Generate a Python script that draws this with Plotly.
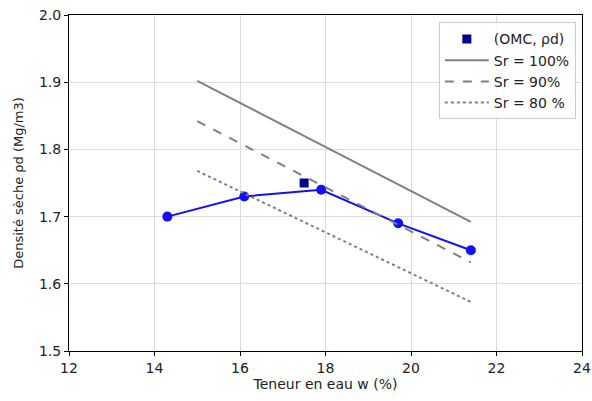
import plotly.graph_objects as go

# Data
w_exp = [14.3, 16.1, 17.9, 19.7, 21.4]
rho_exp = [1.70, 1.73, 1.74, 1.69, 1.65]
omc = [17.5]
rho_max = [1.75]
w_sr = [15.0, 21.4]
sr100 = [1.902, 1.692]
sr90 = [1.842, 1.632]
sr80 = [1.768, 1.573]
x_ticks = [12, 14, 16, 18, 20, 22, 24]
y_ticks = [1.5, 1.6, 1.7, 1.8, 1.9, 2.0]

fig = go.Figure()
fig.add_trace(go.Scatter(x=w_exp, y=rho_exp, mode="lines+markers",
                         line=dict(color="#1010ff", width=2),
                         marker=dict(color="#1010ff", size=10), showlegend=False))
fig.add_trace(go.Scatter(x=omc, y=rho_max, mode="markers", name="(OMC, ρd)",
                         marker=dict(symbol="square", color="#00008b", size=9)))
fig.add_trace(go.Scatter(x=w_sr, y=sr100, mode="lines", name="Sr = 100%",
                         line=dict(color="#808080", width=2)))
fig.add_trace(go.Scatter(x=w_sr, y=sr90, mode="lines", name="Sr = 90%",
                         line=dict(color="#808080", width=2, dash="dash")))
fig.add_trace(go.Scatter(x=w_sr, y=sr80, mode="lines", name="Sr = 80 %",
                         line=dict(color="#808080", width=2, dash="dot")))

axis_common = dict(showline=True, linecolor="black", linewidth=1, mirror=True,
                   ticks="outside", ticklen=4, tickcolor="black", automargin=False,
                   showgrid=True, gridcolor="#dcdcdc", gridwidth=1, zeroline=False,
                   ticklabeloverflow="allow",
                   tickfont=dict(size=14, color="#222"))
fig.update_xaxes(range=[12, 24], tickvals=x_ticks, ticktext=[str(v) for v in x_ticks],
                 title=dict(text="Teneur en eau w (%)", font=dict(size=14, color="#222"), standoff=4),
                 **axis_common)
fig.update_yaxes(range=[1.5, 2.0], tickvals=y_ticks, ticktext=[f"{v:.1f}" for v in y_ticks],
                 title=dict(text="Densité sèche ρd (Mg/m3)", font=dict(size=13, color="#222"), standoff=12),
                 **axis_common)

fig.update_layout(
    width=592, height=401,
    margin=dict(l=69, r=10, t=15, b=50),
    paper_bgcolor="white", plot_bgcolor="white",
    font=dict(family="DejaVu Sans", size=14, color="#222"),
    legend=dict(x=0.988, y=0.978, xanchor="right", yanchor="top",
                bgcolor="rgba(255,255,255,0.85)", bordercolor="#cccccc", borderwidth=1,
                font=dict(size=14), tracegroupgap=0, itemwidth=44),
)
fig.write_html("out.html", config={"displayModeBar": False},
               post_script="document.body.style.margin='0px';")
